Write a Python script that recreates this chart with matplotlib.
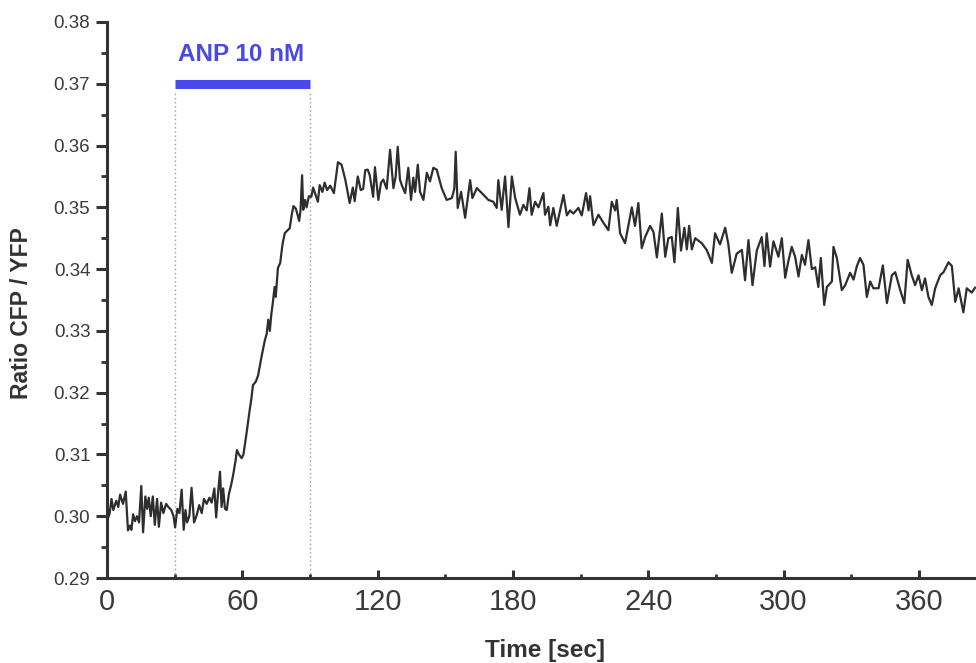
import matplotlib
matplotlib.use("Agg")
import matplotlib.pyplot as plt
from matplotlib.ticker import MultipleLocator

# ---- data ----
time_s = [
    0, 0.3, 1.2, 2.0, 2.8, 4.1, 5.0, 5.8, 7.1, 8.3, 9.3, 10.2, 10.8, 11.6, 12.4, 13.3, 14.2,
    15.2, 16.0, 17.0, 17.8, 18.5, 19.4, 20.3, 21.2, 22.2, 23.0, 24.0, 25.0, 26.2, 27.2, 28.5,
    29.5, 30.2, 31.2, 32.1, 33.1, 34.0, 34.8, 35.5, 36.5, 37.5, 38.6, 39.8, 40.9, 42.0, 43.0,
    44.2, 45.4, 46.4, 47.6, 48.4, 49.3, 50.1, 50.8, 51.5, 52.3, 53.1, 54.0, 55.0, 56.0, 57.0,
    57.6, 58.5, 59.7, 60.5,
    61.9, 63.0, 64.0, 64.7, 66.0, 67.0, 68.5, 70.0, 70.8, 71.5, 72.2, 72.8, 73.5, 74.3, 74.8,
    75.8, 76.8, 77.8, 78.8, 79.8, 81.0, 82.0, 82.7, 83.7, 84.5, 85.2, 85.8, 86.5, 87.0, 87.8,
    88.5, 89.5,
    90.6, 91.4, 92.3, 93.5, 94.3, 95.5, 96.5, 97.6, 99.0, 100.6, 102.4, 104.0, 105.7, 107.6,
    109.0, 109.8, 111.2, 112.5, 113.6, 114.5, 115.6, 116.5, 118.0,
    118.8, 120.3, 121.5, 122.5, 124.0, 125.5, 127.0, 128.0, 128.9, 129.9, 130.7, 132.2, 133.6,
    134.8, 135.8, 136.6, 137.8, 138.8, 140.3, 141.8, 143.2, 144.7, 146.2, 148.4, 150.6, 152.9,
    154.0, 154.6, 155.5, 157.0, 158.8, 161.0, 162.0, 164.0, 166.2, 169.1, 171.3, 172.8, 173.5,
    175.0, 176.5, 178.0, 179.5, 181.0,
    183.1, 184.6, 186.1, 187.3, 188.3, 189.8, 191.3, 193.5, 194.2, 195.7, 196.5, 197.9, 199.4,
    200.9, 202.4, 203.9, 205.3, 206.8, 209.0, 210.5, 212.4, 213.5, 214.2, 215.7, 217.9, 220.1,
    222.3, 223.8, 225.3, 226.0, 227.5, 229.7, 232.7, 234.1, 235.6, 237.1, 238.6,
    240.8, 242.3, 243.8, 246.0, 247.5, 248.9, 250.4, 251.6, 253.1, 254.5, 256.0, 257.1, 258.1,
    259.3, 260.8, 263.7, 265.9, 268.2, 269.6, 271.8, 274.1, 275.5, 277.0, 279.2, 281.5, 282.9,
    284.4, 286.2, 288.1, 290.3, 291.5, 292.5, 294.0, 295.5, 297.7, 299.2,
    300.7, 302.1, 303.6, 305.1, 306.6, 308.1, 309.5, 311.0, 312.5, 314.0, 315.4, 316.5, 318.0,
    319.2, 321.4, 322.1, 323.6, 325.8, 327.3, 329.5, 331.0, 332.5, 333.9, 335.4, 336.9, 338.4,
    339.8, 342.1, 344.0, 345.8, 348.0, 349.5, 351.7, 353.5, 355.0,
    356.8, 358.3, 359.8, 361.3, 362.7, 364.2, 365.7, 367.2, 369.4, 370.9, 373.1, 374.6, 376.1,
    377.6, 379.7, 381.2, 383.4, 384.9,
]
ratio = [
    0.3040, 0.2995, 0.3005, 0.3028, 0.3010, 0.3025, 0.3015, 0.3035, 0.3020, 0.3040, 0.2977, 0.2985,
    0.2978, 0.3003, 0.2992, 0.3000, 0.2990, 0.3049, 0.2974, 0.3032, 0.3012, 0.3030, 0.3000, 0.3032,
    0.2986, 0.3028, 0.2983, 0.3022, 0.3005, 0.3020, 0.3015, 0.3010, 0.3000, 0.2982, 0.3012, 0.3005,
    0.3043, 0.2978, 0.3010, 0.2990, 0.3000, 0.3046, 0.2990, 0.3002, 0.3018, 0.3005, 0.3028, 0.3020,
    0.3030, 0.3022, 0.3045, 0.2998, 0.3040, 0.3072, 0.3015, 0.3045, 0.3012, 0.3010, 0.3035, 0.3050,
    0.3068, 0.3090, 0.3107, 0.3100, 0.3094, 0.3100,
    0.3135, 0.3165, 0.3190, 0.3212, 0.3218, 0.3228, 0.3258, 0.3285, 0.3295, 0.3318, 0.3300, 0.3325,
    0.3345, 0.3371, 0.3355, 0.3402, 0.3410, 0.3440, 0.3458, 0.3462, 0.3466, 0.3490, 0.3502, 0.3498,
    0.3488, 0.3478, 0.3495, 0.3552, 0.3496, 0.3512, 0.3500, 0.3518,
    0.3517, 0.3532, 0.3522, 0.3509, 0.3536, 0.3525, 0.3540, 0.3528, 0.3535, 0.3523, 0.3573, 0.3569,
    0.3544, 0.3507, 0.3532, 0.3510, 0.3550, 0.3528, 0.3530, 0.3560, 0.3561, 0.3552, 0.3517,
    0.3565, 0.3512, 0.3540, 0.3545, 0.3530, 0.3593, 0.3531, 0.3550, 0.3598, 0.3545, 0.3536, 0.3523,
    0.3564, 0.3512, 0.3548, 0.3525, 0.3569, 0.3525, 0.3512, 0.3556, 0.3542, 0.3564, 0.3561, 0.3531,
    0.3512, 0.3515, 0.3530, 0.3590, 0.3499, 0.3525, 0.3483, 0.3544, 0.3515, 0.3531, 0.3523, 0.3512,
    0.3509, 0.3499, 0.3544, 0.3496, 0.3550, 0.3468, 0.3550, 0.3515,
    0.3488, 0.3504, 0.3495, 0.3531, 0.3488, 0.3509, 0.3500, 0.3523, 0.3488, 0.3501, 0.3471, 0.3499,
    0.3470, 0.3495, 0.3520, 0.3487, 0.3495, 0.3490, 0.3499, 0.3487, 0.3523, 0.3495, 0.3518, 0.3471,
    0.3488, 0.3475, 0.3463, 0.3509, 0.3495, 0.3512, 0.3458, 0.3442, 0.3500, 0.3470, 0.3507, 0.3434,
    0.3452,
    0.3470, 0.3460, 0.3419, 0.3490, 0.3420, 0.3450, 0.3452, 0.3411, 0.3499, 0.3430, 0.3467, 0.3432,
    0.3470, 0.3432, 0.3450, 0.3442, 0.3431, 0.3410, 0.3458, 0.3440, 0.3467, 0.3440, 0.3394, 0.3425,
    0.3431, 0.3382, 0.3447, 0.3374, 0.3430, 0.3452, 0.3405, 0.3458, 0.3404, 0.3445, 0.3420, 0.3450,
    0.3386, 0.3413, 0.3436, 0.3420, 0.3388, 0.3423, 0.3407, 0.3447, 0.3400, 0.3403, 0.3371, 0.3418,
    0.3342, 0.3371, 0.3380, 0.3436, 0.3418, 0.3366, 0.3374, 0.3394, 0.3383, 0.3405, 0.3418, 0.3407,
    0.3355, 0.3380, 0.3369, 0.3369, 0.3406, 0.3345, 0.3390, 0.3395, 0.3366, 0.3345, 0.3415,
    0.3390, 0.3374, 0.3390, 0.3366, 0.3385, 0.3355, 0.3342, 0.3369, 0.3390, 0.3395, 0.3411, 0.3405,
    0.3347, 0.3369, 0.3330, 0.3369, 0.3362, 0.3370,
]

stim_start, stim_end = 30, 90
stim_level = 0.370
stim_label = "ANP 10 nM"
x_ticks = [0, 60, 120, 180, 240, 300, 360]
y_ticks = [0.29, 0.30, 0.31, 0.32, 0.33, 0.34, 0.35, 0.36, 0.37, 0.38]

plt.rcParams['font.family'] = ['Liberation Sans', 'DejaVu Sans']

fig = plt.figure(figsize=(9.76, 6.63), dpi=100)
ax = fig.add_axes([107/976, 1 - 578/663, 1 - 107/976, (578 - 22)/663])

ax.plot(time_s, ratio, color='#2e2e2e', lw=1.6, zorder=3)

# stimulus markers
for xv in (stim_start, stim_end):
    ax.plot([xv, xv], [0.29, 0.3688], color='#9a9a9a', lw=1.0, ls=(0, (1, 2)), zorder=1)
ax.plot([stim_start, stim_end], [stim_level, stim_level], color='#4848ec', lw=6.5,
        solid_capstyle='butt', zorder=2)
ax.text((stim_start + stim_end) / 2 - 0.5, 0.3747, stim_label, color='#4a4ae0',
        fontsize=17.5, fontweight='bold', ha='center', va='center')

ax.set_xlim(0, 385.3)
ax.set_ylim(0.29, 0.38)
ax.set_xticks(x_ticks)
ax.set_xticklabels([str(v) for v in x_ticks])
ax.set_yticks(y_ticks)
ax.set_yticklabels([f"{v:.2f}" for v in y_ticks])
ax.xaxis.set_minor_locator(MultipleLocator(30))
ax.yaxis.set_minor_locator(MultipleLocator(0.005))

for side in ('top', 'right'):
    ax.spines[side].set_visible(False)
for side in ('left', 'bottom'):
    ax.spines[side].set_linewidth(2.2)
    ax.spines[side].set_color('#333333')

ax.tick_params(axis='x', which='major', direction='in', length=6, width=2.2,
               color='#333333', labelsize=21, labelcolor='#3a3a3a', pad=7)
ax.tick_params(axis='x', which='minor', direction='in', length=3, width=2.0, color='#333333')
ax.tick_params(axis='y', which='major', direction='out', length=8, width=2.2,
               color='#333333', labelsize=13.5, labelcolor='#3a3a3a', pad=4)
ax.tick_params(axis='y', which='minor', direction='out', length=4, width=2.0, color='#333333')

fig.text(22/976, 1 - 313/663, "Ratio CFP / YFP", rotation=90, ha='center', va='center',
         fontsize=16.5, fontweight='bold', color='#333333')
fig.text(545/976, 1 - 651/663, "Time [sec]", ha='center', va='center',
         fontsize=17.5, fontweight='bold', color='#333333')

fig.savefig("out.png", dpi=100)
